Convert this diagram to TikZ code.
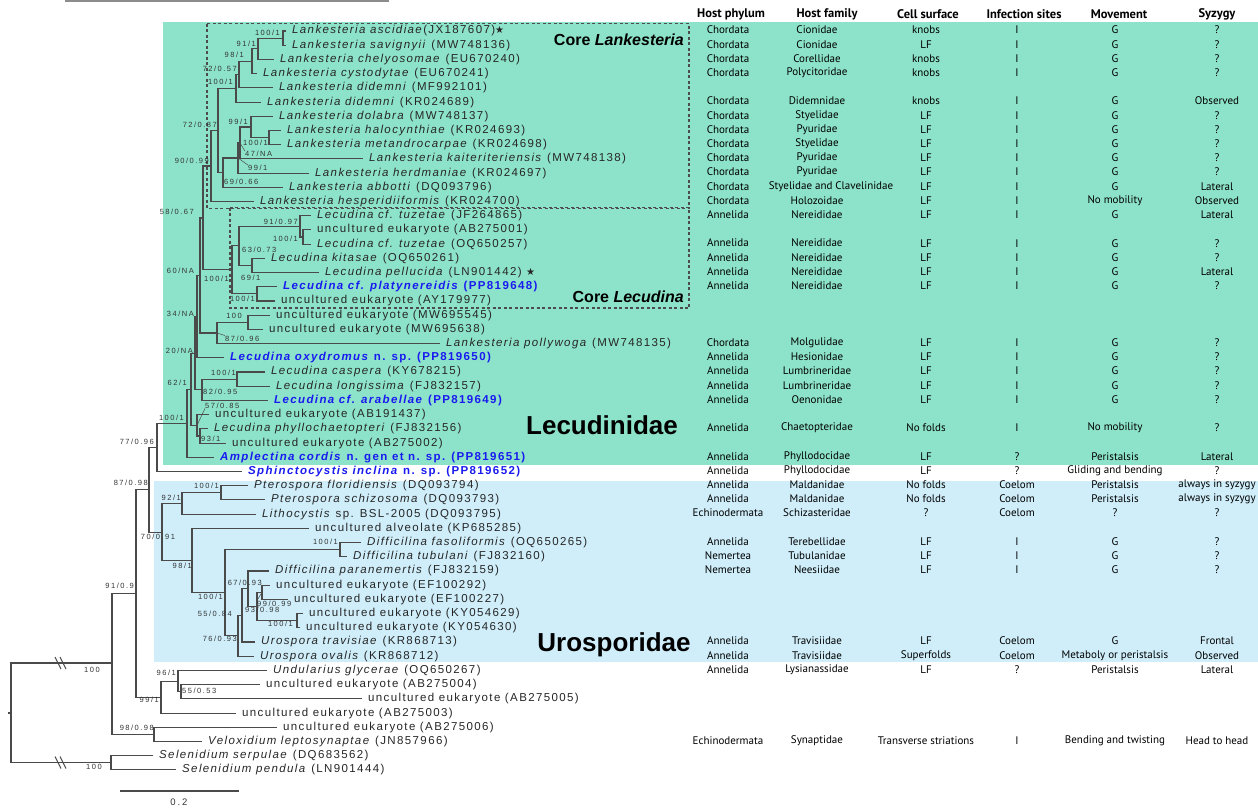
\documentclass[tikz,border=0pt]{standalone}
\usepackage{fontspec}
\setmainfont{Liberation Sans}
\newfontfamily\treefont[LetterSpace=12]{Liberation Sans}
\newfontfamily\bsfont[LetterSpace=20]{Liberation Sans}
\newfontfamily\tabfont{PT Sans}
\newfontfamily\symfont{DejaVu Sans}
\usepackage{xcolor}
\usetikzlibrary{positioning}
\definecolor{lecgreen}{HTML}{8DE3C9}
\definecolor{uroblue}{HTML}{CFEEFA}
\definecolor{seqblue}{HTML}{1A1AF0}
\definecolor{branch}{HTML}{4A4A4A}
\newcommand{\newseq}[1]{{\color{seqblue}\bfseries #1}}
\newcommand{\mystar}{{\symfont\fontsize{10}{10}\selectfont ★}}

\tikzset{
  leaf/.style={anchor=west, inner xsep=6pt, inner ysep=0pt, text=black!85, font=\treefont\fontsize{11.5}{13}\selectfont},
  bs/.style={inner sep=0pt, text=black!80, font=\bsfont\fontsize{7.5}{8}\selectfont},
  cell/.style={inner sep=0pt, font=\tabfont\fontsize{11}{12}\selectfont},
  hdr/.style={inner sep=0pt, font=\tabfont\bfseries\fontsize{12.5}{14}\selectfont},
  branchline/.style={draw=branch, line width=1.1pt},
  leader/.style={draw=branch, line width=0.5pt},
  coreframe/.style={draw=black!70, line width=1.1pt, dash pattern=on 3pt off 2.5pt},
  famlab/.style={inner sep=0pt, font=\bfseries\fontsize{26}{28}\selectfont},
  corelab/.style={inner sep=0pt, anchor=east, font=\bfseries\fontsize{16}{18}\selectfont}
}

\begin{document}
\begin{tikzpicture}[x=1pt, y=-1pt]
    \useasboundingbox (0,0) rectangle (1258,809);

    % clade backgrounds
    \fill[lecgreen] (163,22) rectangle (1258,465);
    \fill[uroblue] (154,481) rectangle (1258,662);
    \draw[black!45, line width=1.5pt] (65,1.2) -- (389,1.2);
    \draw[coreframe] (207,23.5) rectangle (689,208.5);
    \draw[coreframe] (230,207.5) rectangle (689,308);
    \node (corelank) [corelab] at (684,40) {Core \textit{Lankesteria}};
    \node (corelecu) [corelab] at (684,297) {Core \textit{Lecudina}};
    \node (lecudinidae) [famlab] at (602,425) {Lecudinidae};
    \node (urosporidae) [famlab] at (614,645) {Urosporidae};

    % leaves
    \node (t1) [leaf] at (286,31.0) {\textit{Lankesteria ascidiae}(JX187607)\mystar};
    \node (t2) [leaf] at (286,45.2) {\textit{Lankesteria savignyii} (MW748136)};
    \node (t3) [leaf] at (274,59.4) {\textit{Lankesteria chelyosomae} (EU670240)};
    \node (t4) [leaf] at (257,73.6) {\textit{Lankesteria cystodytae} (EU670241)};
    \node (t5) [leaf] at (273,87.8) {\textit{Lankesteria didemni} (MF992101)};
    \node (t6) [leaf] at (261,102.1) {\textit{Lankesteria didemni} (KR024689)};
    \node (t7) [leaf] at (273,116.3) {\textit{Lankesteria dolabra} (MW748137)};
    \node (t8) [leaf] at (281,130.5) {\textit{Lankesteria halocynthiae} (KR024693)};
    \node (t9) [leaf] at (281,144.7) {\textit{Lankesteria metandrocarpae} (KR024698)};
    \node (t10) [leaf] at (363,158.9) {\textit{Lankesteria kaiteriteriensis} (MW748138)};
    \node (t11) [leaf] at (309,173.1) {\textit{Lankesteria herdmaniae} (KR024697)};
    \node (t12) [leaf] at (283,187.3) {\textit{Lankesteria abbotti} (DQ093796)};
    \node (t13) [leaf] at (254,201.5) {\textit{Lankesteria hesperidiiformis} (KR024700)};
    \node (t14) [leaf] at (311,215.7) {\textit{Lecudina cf. tuzetae} (JF264865)};
    \node (t15) [leaf] at (311,229.9) {uncultured eukaryote (AB275001)};
    \node (t16) [leaf] at (311,244.2) {\textit{Lecudina cf. tuzetae} (OQ650257)};
    \node (t17) [leaf] at (265,258.4) {\textit{Lecudina kitasae} (OQ650261)};
    \node (t18) [leaf] at (319,272.6) {\textit{Lecudina pellucida} (LN901442) \mystar};
    \node (t19) [leaf] at (277,286.8) {\newseq{\textit{Lecudina cf. platynereidis} (PP819648)}};
    \node (t20) [leaf] at (275,301.0) {uncultured eukaryote (AY179977)};
    \node (t21) [leaf] at (270,315.2) {uncultured eukaryote (MW695545)};
    \node (t22) [leaf] at (263,329.4) {uncultured eukaryote (MW695638)};
    \node (t23) [leaf] at (440,343.6) {\textit{Lankesteria pollywoga} (MW748135)};
    \node (t24) [leaf] at (224,357.8) {\newseq{\textit{Lecudina oxydromus} n. sp. (PP819650)}};
    \node (t25) [leaf] at (265,372.0) {\textit{Lecudina caspera} (KY678215)};
    \node (t26) [leaf] at (270,386.3) {\textit{Lecudina longissima} (FJ832157)};
    \node (t27) [leaf] at (268,400.5) {\newseq{\textit{Lecudina cf. arabellae} (PP819649)}};
    \node (t28) [leaf] at (209,414.7) {uncultured eukaryote (AB191437)};
    \node (t29) [leaf] at (208,428.9) {\textit{Lecudina phyllochaetopteri} (FJ832156)};
    \node (t30) [leaf] at (226,443.1) {uncultured eukaryote (AB275002)};
    \node (t31) [leaf] at (214,457.3) {\newseq{\textit{Amplectina cordis} n. gen et n. sp. (PP819651)}};
    \node (t32) [leaf] at (242,471.5) {\newseq{\textit{Sphinctocystis inclina} n. sp. (PP819652)}};
    \node (t33) [leaf] at (248,485.7) {\textit{Pterospora floridiensis} (DQ093794)};
    \node (t34) [leaf] at (265,499.9) {\textit{Pterospora schizosoma} (DQ093793)};
    \node (t35) [leaf] at (256,514.1) {\textit{Lithocystis} sp. BSL-2005 (DQ093795)};
    \node (t36) [leaf] at (309,528.4) {uncultured alveolate (KP685285)};
    \node (t37) [leaf] at (361,542.6) {\textit{Difficilina fasoliformis} (OQ650265)};
    \node (t38) [leaf] at (347,556.8) {\textit{Difficilina tubulani} (FJ832160)};
    \node (t39) [leaf] at (269,571.0) {\textit{Difficilina paranemertis} (FJ832159)};
    \node (t40) [leaf] at (270,585.2) {uncultured eukaryote (EF100292)};
    \node (t41) [leaf] at (288,599.4) {uncultured eukaryote (EF100227)};
    \node (t42) [leaf] at (303,613.6) {uncultured eukaryote (KY054629)};
    \node (t43) [leaf] at (300,627.8) {uncultured eukaryote (KY054630)};
    \node (t44) [leaf] at (255,642.0) {\textit{Urospora travisiae} (KR868713)};
    \node (t45) [leaf] at (254,656.2) {\textit{Urospora ovalis} (KR868712)};
    \node (t46) [leaf] at (267,670.5) {\textit{Undularius glycerae} (OQ650267)};
    \node (t47) [leaf] at (260,684.7) {uncultured eukaryote (AB275004)};
    \node (t48) [leaf] at (362,698.9) {uncultured eukaryote (AB275005)};
    \node (t49) [leaf] at (236,713.1) {uncultured eukaryote (AB275003)};
    \node (t50) [leaf] at (277,727.3) {uncultured eukaryote (AB275006)};
    \node (t51) [leaf] at (202,741.5) {\textit{Veloxidium leptosynaptae} (JN857966)};
    \node (t52) [leaf] at (153,755.7) {\textit{Selenidium serpulae} (DQ683562)};
    \node (t53) [leaf] at (176,769.9) {\textit{Selenidium pendula} (LN901444)};

    % internal nodes
    \coordinate (nA) at (283,38.1);
    \coordinate (nB) at (258,48.8);
    \coordinate (nC) at (252,61.2);
    \coordinate (nX) at (239,74.5);
    \coordinate (nY) at (236,88.3);
    \coordinate (nH) at (269,137.6);
    \coordinate (nG) at (251,127.0);
    \coordinate (nK) at (240,143.0);
    \coordinate (nM) at (238,158.0);
    \coordinate (nN) at (223,172.7);
    \coordinate (nP) at (218,130.5);
    \coordinate (nQ) at (211,166.0);
    \coordinate (nS2) at (303,237.0);
    \coordinate (nS1) at (300,226.4);
    \coordinate (nU) at (252,265.5);
    \coordinate (nT) at (239,245.9);
    \coordinate (nW) at (257,293.9);
    \coordinate (nV) at (232,269.9);
    \coordinate (nR) at (203,218.0);
    \coordinate (nAA) at (248,322.3);
    \coordinate (nAB) at (217,333.0);
    \coordinate (nR2) at (200,275.5);
    \coordinate (nR3) at (197,316.7);
    \coordinate (nBA) at (237,379.1);
    \coordinate (nBB) at (202,389.8);
    \coordinate (nR4) at (195,353.2);
    \coordinate (nCA) at (200,436.0);
    \coordinate (nCB) at (197,425.3);
    \coordinate (nE1) at (191,389.3);
    \coordinate (nD1) at (187,423.3);
    \coordinate (nF1) at (157,447.4);
    \coordinate (nPA) at (221,492.8);
    \coordinate (nPB) at (182,503.5);
    \coordinate (nDF) at (340,549.7);
    \coordinate (nL1) at (262,592.3);
    \coordinate (nKK) at (297,620.7);
    \coordinate (nL2) at (257,606.5);
    \coordinate (nL3) at (248,588.8);
    \coordinate (nQ2) at (242,615.4);
    \coordinate (nQ1) at (238,635.8);
    \coordinate (nPE) at (225,592.8);
    \coordinate (nPD) at (192,560.6);
    \coordinate (nPC) at (162,532.1);
    \coordinate (nG1) at (149,489.8);
    \coordinate (nN1) at (181,691.8);
    \coordinate (nM1) at (178,681.2);
    \coordinate (nK1) at (161,697.2);
    \coordinate (nJ1) at (136,593.5);
    \coordinate (nO1) at (154,734.4);
    \coordinate (nH1) at (112,663.0);
    \coordinate (nSE) at (111,762.8);
    \coordinate (nroot) at (11,713.0);
    \coordinate (rootstem) at (8,713.0);

    % branches
    \draw[branchline] (t1.west) -| (nA) |- (t2.west);
    \draw[branchline] (nA) -| (nB) |- (t3.west);
    \draw[branchline] (nB) -| (nC) |- (t4.west);
    \draw[branchline] (nC) -| (nX) |- (t5.west);
    \draw[branchline] (nX) -| (nY) |- (t6.west);
    \draw[branchline] (t8.west) -| (nH) |- (t9.west);
    \draw[branchline] (t7.west) -| (nG) |- (nH);
    \draw[branchline] (nG) -| (nK) |- (t10.west);
    \draw[branchline] (nK) -| (nM) |- (t11.west);
    \draw[branchline] (nM) -| (nN) |- (t12.west);
    \draw[branchline] (nY) -| (nP) |- (nN);
    \draw[branchline] (nP) -| (nQ) |- (t13.west);
    \draw[branchline] (t15.west) -| (nS2) |- (t16.west);
    \draw[branchline] (t14.west) -| (nS1) |- (nS2);
    \draw[branchline] (t17.west) -| (nU) |- (t18.west);
    \draw[branchline] (nS1) -| (nT) |- (nU);
    \draw[branchline] (t19.west) -| (nW) |- (t20.west);
    \draw[branchline] (nT) -| (nV) |- (nW);
    \draw[branchline] (nQ) -| (nR) |- (nV);
    \draw[branchline] (t21.west) -| (nAA) |- (t22.west);
    \draw[branchline] (nAA) -| (nAB) |- (t23.west);
    \draw[branchline] (nR) -| (nR2) |- (nAB);
    \draw[branchline] (nR2) -| (nR3) |- (t24.west);
    \draw[branchline] (t25.west) -| (nBA) |- (t26.west);
    \draw[branchline] (nBA) -| (nBB) |- (t27.west);
    \draw[branchline] (nR3) -| (nR4) |- (nBB);
    \draw[branchline] (t29.west) -| (nCA) |- (t30.west);
    \draw[branchline] (t28.west) -| (nCB) |- (nCA);
    \draw[branchline] (nR4) -| (nE1) |- (nCB);
    \draw[branchline] (nE1) -| (nD1) |- (t31.west);
    \draw[branchline] (nD1) -| (nF1) |- (t32.west);
    \draw[branchline] (t33.west) -| (nPA) |- (t34.west);
    \draw[branchline] (nPA) -| (nPB) |- (t35.west);
    \draw[branchline] (t37.west) -| (nDF) |- (t38.west);
    \draw[branchline] (t40.west) -| (nL1) |- (t41.west);
    \draw[branchline] (t42.west) -| (nKK) |- (t43.west);
    \draw[branchline] (nL1) -| (nL2) |- (nKK);
    \draw[branchline] (t39.west) -| (nL3) |- (nL2);
    \draw[branchline] (nL3) -| (nQ2) |- (t44.west);
    \draw[branchline] (nQ2) -| (nQ1) |- (t45.west);
    \draw[branchline] (nDF) -| (nPE) |- (nQ1);
    \draw[branchline] (t36.west) -| (nPD) |- (nPE);
    \draw[branchline] (nPB) -| (nPC) |- (nPD);
    \draw[branchline] (nF1) -| (nG1) |- (nPC);
    \draw[branchline] (t47.west) -| (nN1) |- (t48.west);
    \draw[branchline] (t46.west) -| (nM1) |- (nN1);
    \draw[branchline] (nM1) -| (nK1) |- (t49.west);
    \draw[branchline] (nG1) -| (nJ1) |- (nK1);
    \draw[branchline] (t50.west) -| (nO1) |- (t51.west);
    \draw[branchline] (nJ1) -| (nH1) |- (nO1);
    \draw[branchline] (t52.west) -| (nSE) |- (t53.west);
    \draw[branchline] (nH1) -| (nroot) |- (nSE);
    \draw[branchline] (nroot) -- (rootstem);
    % breaks on the long branches
    \draw[branchline] (55,657) -- (61,669) (60,657) -- (66,669);
    \draw[branchline] (55,756.5) -- (61,768.5) (60,756.5) -- (66,768.5);

    % support values
    \node (lbA) [bs, anchor=east] at (280,33) {100/1};
    \node (lbB) [bs, anchor=east] at (256,44) {91/1};
    \node (lbC) [bs, anchor=east] at (244,55) {98/1};
    \node (lbX) [bs, anchor=east] at (237,68.5) {72/0.57};
    \node (lbY) [bs, anchor=east] at (233,82) {100/1};
    \node (lbP) [bs, anchor=east] at (217,124.5) {72/0.87};
    \node (lbG) [bs, anchor=east] at (248,122) {99/1};
    \node (lbH) [bs, anchor=east] at (268,143) {100/1};
    \node (lbK) [bs, anchor=west] at (245,154) {47/NA};
    \node (lbM) [bs, anchor=west] at (248,168) {99/1};
    \node (lbN) [bs, anchor=west] at (224,181.5) {69/0.66};
    \node (lbQ) [bs, anchor=east] at (209,161) {90/0.99};
    \node (lbR) [bs, anchor=east] at (194,212) {58/0.67};
    \node (lbS1) [bs, anchor=east] at (298,221.5) {91/0.97};
    \node (lbS2) [bs, anchor=east] at (298,238.5) {100/1};
    \node (lbT) [bs, anchor=west] at (242,249.5) {63/0.73};
    \node (lbU) [bs, anchor=west] at (241,277.5) {69/1};
    \node (lbV) [bs, anchor=east] at (229,278.5) {100/1};
    \node (lbW) [bs, anchor=east] at (255,299) {100/1};
    \node (lbR2) [bs, anchor=east] at (194,270.5) {60/NA};
    \node (lbAA) [bs, anchor=east] at (242,316) {100};
    \node (lbAB) [bs, anchor=west] at (225,338.5) {87/0.96};
    \node (lbR3) [bs, anchor=east] at (194,314) {34/NA};
    \node (lbR4) [bs, anchor=east] at (193,351) {20/NA};
    \node (lbBA) [bs, anchor=east] at (236,373) {100/1};
    \node (lbE1) [bs, anchor=east] at (187,383) {62/1};
    \node (lbBB) [bs, anchor=west] at (203,391.5) {82/0.95};
    \node (lbCB) [bs, anchor=west] at (205,405.5) {57/0.85};
    \node (lbCA) [bs, anchor=west] at (201,438.5) {93/1};
    \node (lbD1) [bs, anchor=east] at (184,418) {100/1};
    \node (lbF1) [bs, anchor=east] at (154,442) {77/0.96};
    \node (lbG1) [bs, anchor=east] at (148,483) {87/0.98};
    \node (lbPA) [bs, anchor=east] at (219,485.5) {100/1};
    \node (lbPB) [bs, anchor=east] at (181,497.5) {92/1};
    \node (lbPC) [bs] at (158,537) {70/0.91};
    \node (lbPD) [bs, anchor=east] at (192,566) {98/1};
    \node (lbPE) [bs, anchor=east] at (223,597) {100/1};
    \node (lbDF) [bs, anchor=east] at (338,542) {100/1};
    \node (lbL3) [bs, anchor=east] at (262,583) {67/0.93};
    \node (lbL1) [bs, anchor=west] at (257,603.5) {99/0.99};
    \node (lbL2) [bs, anchor=west] at (245,610) {93/0.98};
    \node (lbKK) [bs, anchor=east] at (293,624) {100/1};
    \node (lbQ2) [bs, anchor=east] at (232,614) {55/0.84};
    \node (lbQ1) [bs, anchor=east] at (237,639) {76/0.93};
    \node (lbJ1) [bs, anchor=east] at (134,586) {91/0.9};
    \node (lbM1) [bs, anchor=east] at (176,673) {96/1};
    \node (lbN1) [bs, anchor=west] at (182,691) {55/0.53};
    \node (lbK1) [bs, anchor=east] at (159,700) {99/1};
    \node (lbO1) [bs, anchor=east] at (154,727.5) {98/0.98};
    \node (lbH1) [bs] at (92,670) {100};
    \node (lbSE) [bs] at (94,766.5) {100};
    \draw[leader] (nK) -- (lbK.north west);
    \draw[leader] (nM) -- (lbM.north west);
    \draw[leader] (nAB) -- (lbAB.north west);
    \draw[leader] (nCB) -- (lbCB.south west);
    \draw[leader] (nL1) -- (lbL1.north west);

    % scale bar
    \coordinate (sb0) at (120,791);
    \coordinate (sb1) at (239,791);
    \draw[branchline] (sb0) -- (sb1);
    \node (sblab) [bs, font=\bsfont\fontsize{9.5}{10}\selectfont] at (179,802) {0.2};

    % trait table
    \node (hphy) [hdr] at (731,14) {Host phylum};
    \node (hfam) [hdr] at (827,14) {Host family};
    \node (hsurf) [hdr] at (928,14) {Cell surface};
    \node (hinf) [hdr] at (1024,14) {Infection sites};
    \node (hmov) [hdr] at (1119,14) {Movement};
    \node (hsyz) [hdr] at (1217,14) {Syzygy};
    \foreach \r/\ph/\fa/\cs/\is/\mv/\sz in {
        1/Chordata/Cionidae/knobs/I/G/?,
        2/Chordata/Cionidae/LF/I/G/?,
        3/Chordata/Corellidae/knobs/I/G/?,
        4/Chordata/Polycitoridae/knobs/I/G/?,
        6/Chordata/Didemnidae/knobs/I/G/Observed,
        7/Chordata/Styelidae/LF/I/G/?,
        8/Chordata/Pyuridae/LF/I/G/?,
        9/Chordata/Styelidae/LF/I/G/?,
        10/Chordata/Pyuridae/LF/I/G/?,
        11/Chordata/Pyuridae/LF/I/G/?,
        12/Chordata/\hspace{28pt}Styelidae and Clavelinidae/LF/I/G/Lateral,
        13/Chordata/Holozoidae/LF/I/No mobility/Observed,
        14/Annelida/Nereididae/LF/I/G/Lateral,
        16/Annelida/Nereididae/LF/I/G/?,
        17/Annelida/Nereididae/LF/I/G/?,
        18/Annelida/Nereididae/LF/I/G/Lateral,
        19/Annelida/Nereididae/LF/I/G/?,
        23/Chordata/Molgulidae/LF/I/G/?,
        24/Annelida/Hesionidae/LF/I/G/?,
        25/Annelida/Lumbrineridae/LF/I/G/?,
        26/Annelida/Lumbrineridae/LF/I/G/?,
        27/Annelida/Oenonidae/LF/I/G/?,
        29/Annelida/Chaetopteridae/No folds/I/No mobility/?,
        31/Annelida/Phyllodocidae/LF/?/Peristalsis/Lateral,
        32/Annelida/Phyllodocidae/LF/?/Gliding and bending/?,
        33/Annelida/Maldanidae/No folds/Coelom/Peristalsis/always in syzygy,
        34/Annelida/Maldanidae/No folds/Coelom/Peristalsis/always in syzygy,
        35/Echinodermata/Schizasteridae/?/Coelom/?/?,
        37/Annelida/Terebellidae/LF/I/G/?,
        38/Nemertea/Tubulanidae/LF/I/G/?,
        39/Nemertea/Neesiidae/LF/I/G/?,
        44/Annelida/Travisiidae/LF/Coelom/G/Frontal,
        45/Annelida/Travisiidae/Superfolds/Coelom/Metaboly or peristalsis/Observed,
        46/Annelida/Lysianassidae/LF/?/Peristalsis/Lateral,
        51/Echinodermata/Synaptidae/Transverse striations/I/Bending and twisting/Head to head} {
        \pgfmathsetmacro{\ry}{30+14.21*(\r-1)}
        \node (phy\r) [cell] at (728,\ry) {\ph};
        \node (fam\r) [cell] at (817,\ry) {\fa};
        \node (surf\r) [cell] at (926,\ry) {\cs};
        \node (inf\r) [cell] at (1017,\ry) {\is};
        \node (mov\r) [cell] at (1115,\ry) {\mv};
        \node (syz\r) [cell] at (1217,\ry) {\sz};
    }
\end{tikzpicture}
\end{document}
